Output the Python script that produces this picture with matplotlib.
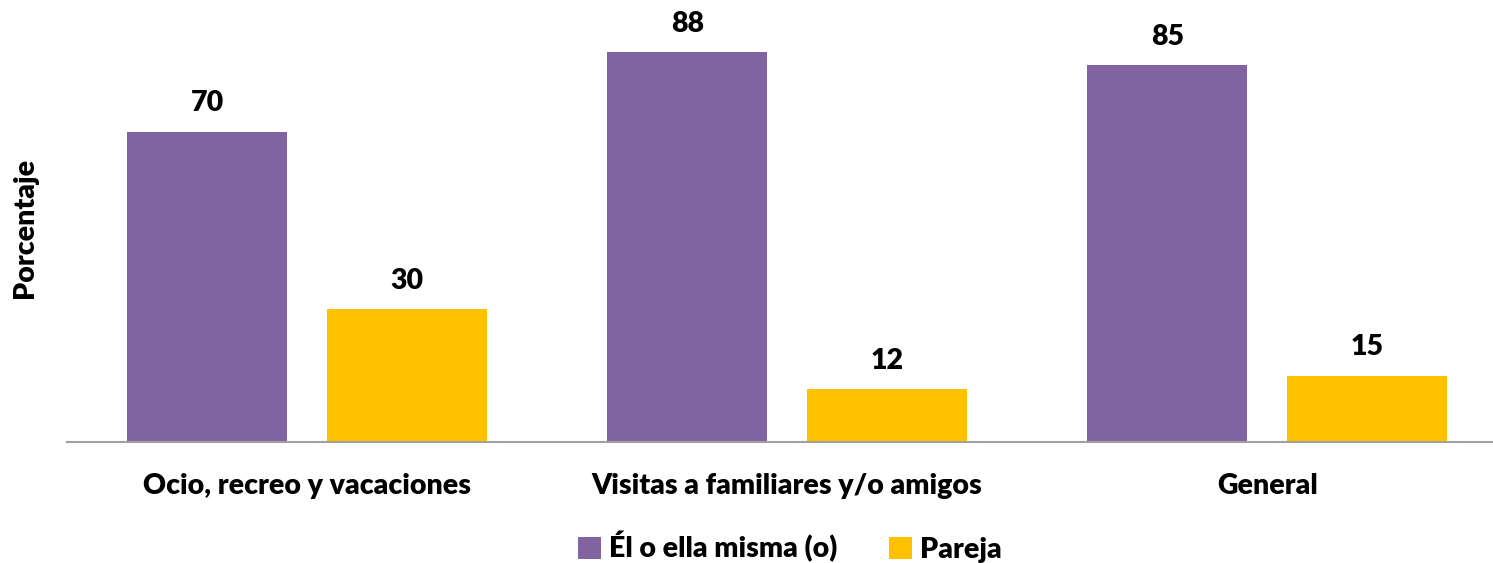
import matplotlib
matplotlib.use("Agg")
import matplotlib.pyplot as plt
import numpy as np

categories = ["Ocio, recreo y vacaciones", "Visitas a familiares y/o amigos", "General"]
series_names = ["Él o ella misma (o)", "Pareja"]
self_vals = [70, 88, 85]
pareja_vals = [30, 12, 15]
colors = ["#8064A2", "#FFC000"]

plt.rcParams['font.family'] = ['Lato', 'DejaVu Sans']
WT = 800
FS = 20.5
plt.rcParams['font.weight'] = WT

W, H = 1493, 563
fig = plt.figure(figsize=(W / 100, H / 100), dpi=100)
ax = fig.add_axes([67 / W, (H - 442) / H, (W - 67) / W, 441 / H])

x = np.arange(len(categories))
bw = 1 / 3
off = 0.2083
b1 = ax.bar(x - off, self_vals, bw, color=colors[0], label=series_names[0])
b2 = ax.bar(x + off, pareja_vals, bw, color=colors[1], label=series_names[1])

for bars in (b1, b2):
    for r in bars:
        ax.annotate(f"{r.get_height():.0f}", (r.get_x() + r.get_width() / 2, r.get_height()),
                    xytext=(0, 11), textcoords="offset points", ha="center", va="bottom",
                    fontsize=FS, fontweight=WT)

ax.set_xlim(-0.5, 2.47)
ax.set_ylim(0, 99.5)
ax.set_xticks(x)
ax.set_xticklabels(categories, fontsize=FS, fontweight=WT)
ax.tick_params(axis="x", length=0, pad=22)
ax.set_yticks([])
for s in ("top", "right", "left"):
    ax.spines[s].set_visible(False)
ax.spines["bottom"].set_color("#A0A0A0")
ax.spines["bottom"].set_linewidth(1.5)

fig.text(25 / W, 1 - 228 / H, "Porcentaje", rotation=90, ha="center", va="center",
         fontsize=FS, fontweight=WT)

fig.legend(handles=[b1, b2], labels=series_names, loc="center", bbox_to_anchor=(790 / W, 1 - 547 / H),
           ncol=2, frameon=False, handlelength=0.8, handleheight=0.8,
           handletextpad=0.3, columnspacing=1.8, prop={'weight': WT, 'size': FS})

fig.savefig("out.png", dpi=100)
